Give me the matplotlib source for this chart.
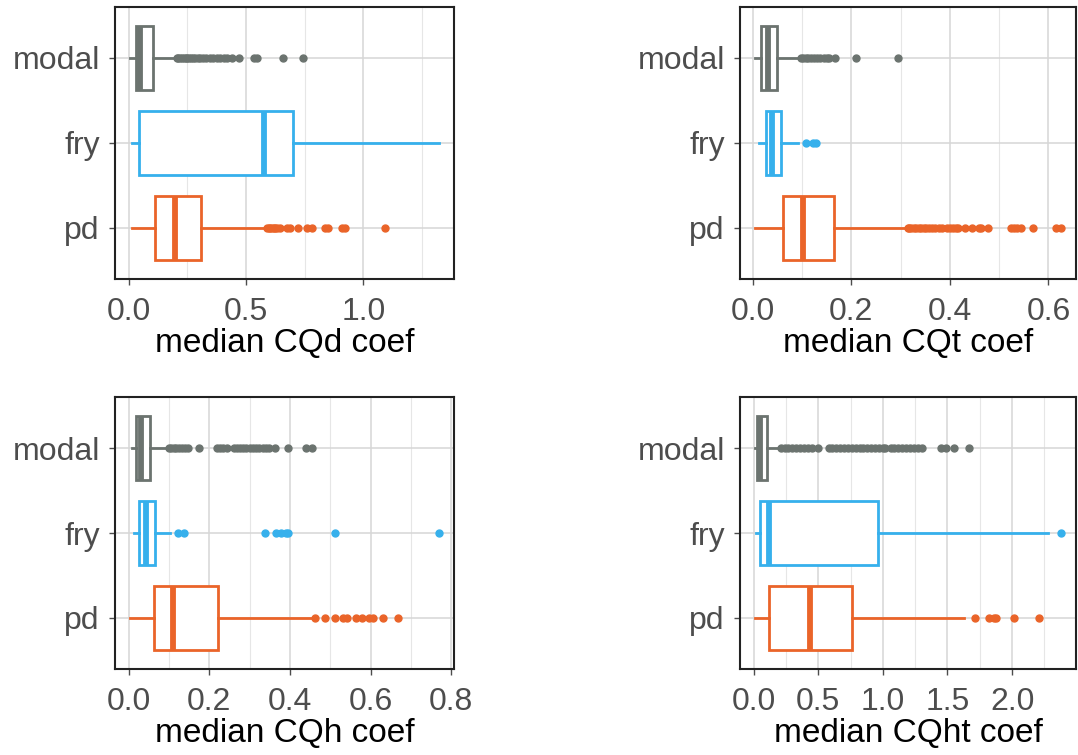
import matplotlib
matplotlib.use("Agg")
import matplotlib.pyplot as plt
from matplotlib.ticker import MultipleLocator, AutoMinorLocator

plt.rcParams['font.family'] = ['Liberation Sans', 'DejaVu Sans']

# categories, bottom to top
groups = ['pd', 'fry', 'modal']
colors = ['#ea6429', '#36b0ec', '#6b736f']

# box stats per panel: [whislo, q1, med, q3, whishi] for pd, fry, modal
cqd_stats = [[0.014, 0.114, 0.198, 0.31, 0.581],
             [0.014, 0.044, 0.577, 0.702, 1.32],
             [0.008, 0.033, 0.05, 0.104, 0.197]]
cqd_fliers = [[0.588, 0.596, 0.603, 0.61, 0.618, 0.625, 0.633, 0.645, 0.674, 0.688,
               0.72, 0.759, 0.78, 0.835, 0.849, 0.909, 0.92, 1.091],
              [],
              [0.205, 0.212, 0.22, 0.228, 0.235, 0.243, 0.25, 0.258, 0.266, 0.275,
               0.284, 0.295, 0.305, 0.318, 0.33, 0.345, 0.36, 0.375, 0.39, 0.405,
               0.42, 0.44, 0.47, 0.534, 0.546, 0.658, 0.744]]

cqt_stats = [[0.005, 0.062, 0.101, 0.164, 0.311],
             [0.012, 0.026, 0.039, 0.058, 0.091],
             [0.005, 0.017, 0.031, 0.05, 0.095]]
cqt_fliers = [[0.314, 0.318, 0.322, 0.327, 0.332, 0.337, 0.342, 0.347, 0.352, 0.358,
               0.364, 0.37, 0.377, 0.384, 0.394, 0.4, 0.406, 0.412, 0.417, 0.431,
               0.445, 0.46, 0.464, 0.478, 0.524, 0.53, 0.537, 0.544, 0.569, 0.616, 0.625],
              [0.107, 0.123, 0.128],
              [0.097, 0.102, 0.107, 0.112, 0.118, 0.124, 0.13, 0.137, 0.144, 0.15,
               0.155, 0.166, 0.209, 0.294]]

cqh_stats = [[0.004, 0.062, 0.11, 0.221, 0.461],
             [0.013, 0.026, 0.042, 0.065, 0.103],
             [0.007, 0.017, 0.031, 0.052, 0.097]]
cqh_fliers = [[0.463, 0.488, 0.513, 0.531, 0.541, 0.564, 0.578, 0.596, 0.607, 0.63, 0.669],
              [0.122, 0.137, 0.337, 0.366, 0.378, 0.39, 0.395, 0.513, 0.769],
              [0.099, 0.105, 0.112, 0.118, 0.125, 0.132, 0.139, 0.146, 0.174, 0.219,
               0.226, 0.235, 0.245, 0.26, 0.268, 0.276, 0.284, 0.292, 0.3, 0.308,
               0.316, 0.324, 0.332, 0.34, 0.348, 0.362, 0.395, 0.439, 0.454]]

cqht_stats = [[0.013, 0.123, 0.44, 0.759, 1.63],
              [0.021, 0.051, 0.12, 0.963, 2.279],
              [0.013, 0.03, 0.05, 0.1, 0.205]]
cqht_fliers = [[1.716, 1.819, 1.86, 1.877, 2.013, 2.205],
               [2.376],
               [0.21, 0.24, 0.27, 0.3, 0.33, 0.36, 0.39, 0.42, 0.45, 0.5,
                0.58, 0.61, 0.64, 0.67, 0.7, 0.73, 0.76, 0.79, 0.82, 0.85,
                0.88, 0.91, 0.94, 0.97, 1.0, 1.02, 1.06, 1.09, 1.12, 1.15,
                1.18, 1.21, 1.24, 1.27, 1.3, 1.45, 1.49, 1.55, 1.67]]

panels = [
    (cqd_stats, cqd_fliers, 'median CQd coef', 0.5),
    (cqt_stats, cqt_fliers, 'median CQt coef', 0.2),
    (cqh_stats, cqh_fliers, 'median CQh coef', 0.2),
    (cqht_stats, cqht_fliers, 'median CQht coef', 0.5),
]

W, H = 1078, 755
fig = plt.figure(figsize=(W / 100, H / 100), dpi=100)

# axes rectangles in pixels: left, top, right, bottom
rects = [(115, 7, 454, 279), (740, 7, 1076, 279),
         (115, 397, 454, 669), (740, 397, 1076, 669)]

for (stats, fliers, label, step), (l, t, r, b) in zip(panels, rects):
    ax = fig.add_axes([l / W, (H - b) / H, (r - l) / W, (b - t) / H])

    for i, (s, f, c) in enumerate(zip(stats, fliers, colors)):
        box = dict(whislo=s[0], q1=s[1], med=s[2], q3=s[3], whishi=s[4], fliers=f)
        ax.bxp([box], positions=[i + 1], widths=0.75, orientation='horizontal',
               showcaps=False, patch_artist=True,
               boxprops=dict(facecolor='white', edgecolor=c, linewidth=2.0),
               whiskerprops=dict(color=c, linewidth=2.0),
               medianprops=dict(color=c, linewidth=4.2, solid_capstyle='butt'),
               flierprops=dict(marker='o', markerfacecolor=c, markeredgecolor=c,
                               markersize=5, linestyle='none'),
               zorder=3)

    lo = min(s[0] for s in stats)
    hi = max([s[4] for s in stats] + [v for f in fliers for v in f])
    pad = 0.05 * (hi - lo)
    ax.set_xlim(lo - pad, hi + pad)
    ax.set_ylim(0.4, 3.6)

    ax.xaxis.set_major_locator(MultipleLocator(step))
    ax.xaxis.set_minor_locator(AutoMinorLocator(2))
    ax.xaxis.set_major_formatter(matplotlib.ticker.FormatStrFormatter('%.1f'))
    ax.set_yticks([1, 2, 3])
    ax.set_yticklabels(groups)

    ax.grid(which='major', color='#d6d6d6', linewidth=1.1, zorder=0)
    ax.grid(which='minor', axis='x', color='#e6e6e6', linewidth=0.8, zorder=0)
    ax.set_axisbelow(True)

    ax.tick_params(which='major', length=4, width=1, color='#4d4d4d',
                   labelcolor='#4d4d4d', labelsize=23, pad=7)
    ax.tick_params(axis='x', which='major', pad=9)
    ax.tick_params(which='minor', length=0)
    for sp in ax.spines.values():
        sp.set_color('#222222')
        sp.set_linewidth(1.5)

    ax.set_xlabel(label, fontsize=24, color='black', labelpad=1)

fig.savefig('out.png', dpi=100, facecolor='white')
